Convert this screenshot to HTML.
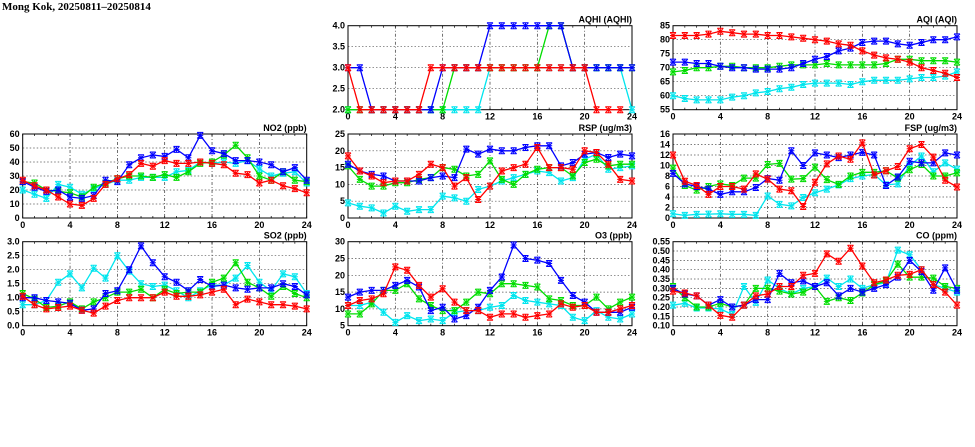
<!DOCTYPE html>
<html><head><meta charset="utf-8"><style>
body{margin:0;background:#fff;width:975px;height:447px;overflow:hidden}
svg{display:block}
text{font-family:"Liberation Sans",sans-serif;font-weight:bold;fill:#000}
</style></head><body>
<svg id="chart" width="975" height="447" xmlns="http://www.w3.org/2000/svg">
<text x="2" y="10" font-size="11" style="font-family:'Liberation Serif',serif">Mong Kok, 20250811–20250814</text>
</svg>
<script>
const hours=[0,1,2,3,4,5,6,7,8,9,10,11,12,13,14,15,16,17,18,19,20,21,22,23,24];
const xTicks=[0,4,8,12,16,20,24];
const colors=["#ff0000","#00dd00","#0000ff","#00e5ee"];

const aqhiRed=[3,2,2,2,2,2,2,3,3,3,3,3,3,3,3,3,3,3,3,3,3,2,2,2,null];
const aqhiGreen=[2,2,2,2,2,2,2,2,2,3,3,3,3,3,3,3,3,4,4,3,3,3,3,3,3];
const aqhiBlue=[3,3,2,2,2,2,2,2,3,3,3,3,4,4,4,4,4,4,4,3,3,3,3,3,3];
const aqhiCyan=[2,2,2,2,2,2,2,2,2,2,2,2,3,3,3,3,3,3,3,3,3,3,3,3,2];
const aqhiTicks=[2.0,2.5,3.0,3.5,4.0];

const aqiRed=[81.5,81.5,81.5,82,83,82.5,82,82,81.5,81.5,81,80.5,80,79.5,78.5,78,76,74.5,73.5,73,72,70,69,68,66.5];
const aqiGreen=[68.5,69,70,70,70.5,70.5,70,70,70,70.5,71,71,71,71.5,71,71,71,71,71.5,73,73,72.5,72.5,72.5,72];
const aqiBlue=[72,72,71.5,71.5,70.5,70,70,69.5,69.5,69.5,70,71.5,73,74,76,77,79,79.5,79.5,78.5,78,79,80,80,81];
const aqiCyan=[60,59,58.5,58.5,58.5,59.5,60,61,61.5,62.5,63,64,64.5,64.5,64.5,64,65,65.5,65.5,65.5,66,66.5,66.5,67,68.5];
const aqiTicks=[55,60,65,70,75,80,85];

const no2Red=[27,23,20,15,10,9,14,24,28,31,39,37,41,39,39,40,39,38,32,31,25,27,23,21,18];
const no2Green=[26,25,20,19,18,15,22,25,28,30,30,29,31,29,33,39,40,45,52,43,30,27,33,27,26];
const no2Blue=[26,22,19,20,15,14,16,27,26,38,43,45,44,49,43,59,48,46,41,41,40,38,33,36,27];
const no2Cyan=[20,17,14,24,22,17,21,24,27,27,29,29,29,33,34,40,39,40,39,41,35,30,32,33,25];
const no2Ticks=[0,10,20,30,40,50,60];

const rspRed=[18.5,14,12.5,10.5,11,11,13,16,15,9.5,12,5.5,9.5,14,15,16,21,15,15,14.5,20,19.5,16,11.5,11];
const rspGreen=[15.5,11.5,9.5,9.5,10.5,10.5,11.5,12,15,14.5,12.5,13,17,11.5,10,13,14.5,15,15,12.5,16.5,17.5,15.5,16,16];
const rspBlue=[16,14,13,12.5,11,11,11,12,12.5,12,20.5,19,20.5,20,20,21,21.5,21.5,15.5,16.5,19,19.5,18,19,18.5];
const rspCyan=[4.5,3.5,3,1.5,3.5,2,2.5,2.5,6.5,6,5,8.5,9.5,11,12,13,14,13.5,11,12,17.5,19,14.5,15,15.5];
const rspTicks=[0,5,10,15,20,25];

const fspRed=[12,7,6.2,4.5,6,6,5.5,8.4,7.4,5.5,5.2,2.2,6.8,10.3,11.8,11.2,14.3,8.2,9,9.8,13.2,14,11.6,7.2,5.9];
const fspGreen=[9.5,6.2,5.3,6,6.5,6.2,7.6,7.6,10.2,10.4,7.4,7.5,9.7,7.3,6.4,8,8.7,8.7,9,7.6,9.2,10.2,8,8,8.6];
const fspBlue=[8.5,6.5,6,5.5,4.5,5,5,5.8,7.5,7.2,12.8,10,12.4,12,11.5,12,12.5,12,6.2,7.8,10.8,10.5,10.5,12.4,12];
const fspCyan=[0.8,0.5,0.7,0.75,0.8,0.7,0.7,0.5,4.2,2.6,2.3,3.9,4.8,5.5,6.3,7.5,8,8.3,6.3,6.5,10,11.8,8.8,10.5,9.3];
const fspTicks=[0,2,4,6,8,10,12,14,16];

const so2Red=[1.05,0.75,0.6,0.65,0.7,0.55,0.45,0.7,0.9,1.0,1.0,1.0,1.2,1.05,1.05,1.1,1.2,1.3,0.75,0.95,0.85,0.75,0.75,0.7,0.6];
const so2Green=[1.15,0.95,0.65,0.7,0.85,0.6,0.85,1.0,1.2,1.2,1.3,1.0,1.3,1.15,1.2,1.2,1.55,1.7,2.25,1.55,1.35,1.05,1.4,1.15,1.0];
const so2Blue=[1.0,1.0,0.9,0.85,0.8,0.55,0.6,1.15,1.25,2.0,2.85,2.25,1.75,1.55,1.25,1.65,1.4,1.45,1.35,1.3,1.35,1.35,1.5,1.4,1.1];
const so2Cyan=[0.75,0.75,0.9,1.55,1.85,1.35,2.05,1.7,2.5,1.95,1.5,1.4,1.45,1.25,1.0,1.25,1.45,1.45,1.7,2.15,1.55,1.25,1.85,1.75,1.15];
const so2Ticks=[0,0.5,1,1.5,2,2.5,3];

const o3Red=[11,12.5,13,14.5,22.5,21.5,17,13.5,16,12,9.5,9.5,7.5,8.5,8.5,7.5,8,8.5,11.5,10.5,11,9,9,10,11];
const o3Green=[8.5,8.5,11.5,15.5,15.5,17.5,13,11,9.5,9.5,12,15,14.5,17.5,17.5,17,16.5,13,12.5,11,11,13.5,10,12,13.5];
const o3Blue=[13.5,15,15.5,15.5,17,18.5,16.5,9.5,10.5,7,8,10.5,15.5,19.5,29,25,24.5,23.5,18.5,14,12,9,9,9,10.5];
const o3Cyan=[11,11,12,9,6,8,6.5,7,6.5,9,9.5,9.5,10.5,11,14,12.5,12,11.5,11,7.5,6.5,9.5,7.5,7,8.5];
const o3Ticks=[5,10,15,20,25,30];

const coRed=[.285,.275,.26,.21,.155,.145,.21,.26,.27,.31,.31,.37,.38,.485,.445,.515,.42,.33,.345,.37,.375,.40,.32,.28,.21];
const coGreen=[.31,.25,.20,.20,.22,.20,.21,.30,.30,.285,.27,.28,.31,.23,.25,.235,.275,.32,.34,.43,.36,.36,.355,.31,.30];
const coBlue=[.30,.27,.26,.21,.24,.20,.21,.24,.24,.38,.33,.34,.31,.33,.26,.30,.28,.30,.32,.36,.45,.39,.29,.41,.29];
const coCyan=[.21,.22,.195,.195,.19,.16,.31,.225,.345,.30,.27,.30,.31,.355,.31,.35,.30,.32,.33,.505,.48,.40,.32,.30,.28];
const coTicks=[.10,.15,.20,.25,.30,.35,.40,.45,.50,.55];

const NS="http://www.w3.org/2000/svg";
const svg=document.getElementById('chart');
function mk(tag,attrs,parent){const e=document.createElementNS(NS,tag);for(const k in attrs)e.setAttribute(k,attrs[k]);(parent||svg).appendChild(e);return e;}

function panel(id,title,x0,y0,ticks,dec,series){
  const W=284,H=84;
  const g=mk('g',{});
  
  
  const ymin=ticks[0],ymax=ticks[ticks.length-1];
  const sx=v=>x0+v/24*W, sy=v=>y0+H-(v-ymin)/(ymax-ymin)*H;
  ticks.forEach(t=>{
    const y=sy(t);
    if(t!==ymin&&t!==ymax){const l=mk('line',{x1:x0,x2:x0+W,y1:y,y2:y,stroke:'#555','stroke-width':0.7,'stroke-dasharray':'1.5,2'},g);}
    const tx=mk('text',{x:x0-3,y:y+3,'font-size':9,'text-anchor':'end'},g);
    
    
    tx.textContent=t.toFixed(dec);
  });
  xTicks.forEach(t=>{
    const x=sx(t);
    if(t!==0&&t!==24){const l=mk('line',{x1:x,x2:x,y1:y0,y2:y0+H,stroke:'#333','stroke-width':0.7,'stroke-dasharray':'3,2,1,2'},g);}
    const tx=mk('text',{x:x,y:y0+H+10,'font-size':9,'text-anchor':'middle'},g);
    
    
    tx.textContent=t;
  });
  hours.forEach(h=>{const x=sx(h);mk('line',{x1:x,x2:x,y1:y0+H,y2:y0+H-2,stroke:'#000','stroke-width':0.7},g);mk('line',{x1:x,x2:x,y1:y0,y2:y0+2,stroke:'#000','stroke-width':0.7},g);});
  const fr=mk('rect',{x:x0,y:y0,width:W,height:H,fill:'none',stroke:'#000','stroke-width':1},g);
  
  const tt=mk('text',{x:x0+W,y:y0-3,'font-size':9,'text-anchor':'end'},g);
  
  
  tt.textContent=title;
  const cp=mk('clipPath',{id:'c'+id},g);mk('rect',{x:x0-4,y:y0-4,width:W+8,height:H+8},cp);
  const names=['red','green','blue','cyan'];
  [3,1,2,0].forEach(i=>{
    const vals=series[i];
    const sg=mk('g',{'clip-path':'url(#c'+id+')'},g);
    
    
    let d='';let pen=false;
    vals.forEach((v,j)=>{if(v==null){pen=false;return;}d+=(pen?'L':'M')+sx(hours[j]).toFixed(1)+','+sy(v).toFixed(1);pen=true;});
    const p=mk('path',{d:d,fill:'none',stroke:colors[i],'stroke-width':1.3},sg);
    
    
    vals.forEach((v,j)=>{if(v==null)return;const x=sx(hours[j]),y=sy(v),r=3;
      const m=mk('path',{d:`M${x-r},${y}H${x+r}M${x},${y-r}V${y+r}M${x-r},${y-r}L${x+r},${y+r}M${x-r},${y+r}L${x+r},${y-r}M${x-r},${y-r}H${x+r}M${x-r},${y+r}H${x+r}`,stroke:colors[i],'stroke-width':1,fill:'none'},sg);
      
      
    });
  });
}
panel('aqhi','AQHI (AQHI)',348,25.7,aqhiTicks,1,[aqhiRed,aqhiGreen,aqhiBlue,aqhiCyan]);
panel('aqi','AQI (AQI)',673,25.7,aqiTicks,0,[aqiRed,aqiGreen,aqiBlue,aqiCyan]);
panel('no2','NO2 (ppb)',22.7,134,no2Ticks,0,[no2Red,no2Green,no2Blue,no2Cyan]);
panel('rsp','RSP (ug/m3)',348,134,rspTicks,0,[rspRed,rspGreen,rspBlue,rspCyan]);
panel('fsp','FSP (ug/m3)',673,134,fspTicks,0,[fspRed,fspGreen,fspBlue,fspCyan]);
panel('so2','SO2 (ppb)',22.7,241.7,so2Ticks,1,[so2Red,so2Green,so2Blue,so2Cyan]);
panel('o3','O3 (ppb)',348,241.7,o3Ticks,0,[o3Red,o3Green,o3Blue,o3Cyan]);
panel('co','CO (ppm)',673,241.7,coTicks,2,[coRed,coGreen,coBlue,coCyan]);
</script>
</body></html>
